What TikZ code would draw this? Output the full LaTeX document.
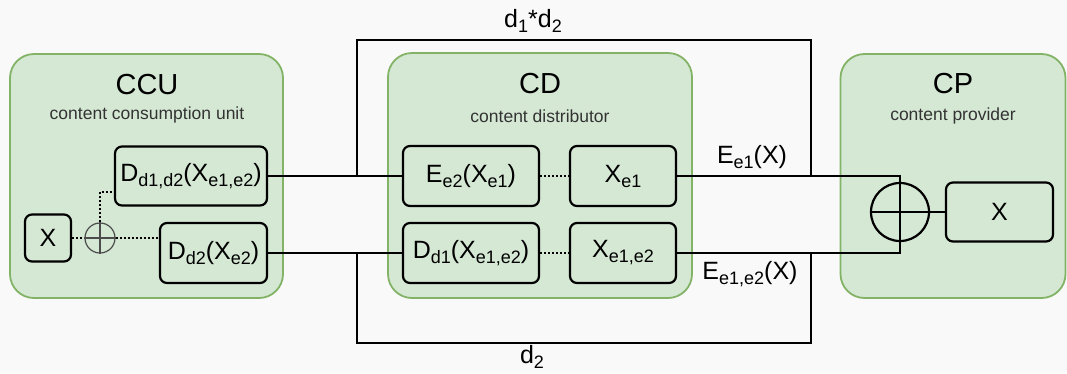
\documentclass[tikz,border=0pt]{standalone}
\usepackage{fontspec}
\setmainfont{Liberation Sans}
\definecolor{bgc}{HTML}{F9F9F9}
\definecolor{gfill}{HTML}{D5E8D4}
\definecolor{gline}{HTML}{82B366}
\definecolor{tgray}{HTML}{333333}
\newcommand\sbs[1]{\raisebox{-5pt}{\fontsize{18}{18}\selectfont #1}}
\begin{document}
\begin{tikzpicture}[x=1pt,y=-1pt,
  grp/.style={draw=gline,fill=gfill,line width=1.8pt,rounded corners=24pt,inner sep=0pt},
  blk/.style={draw=black,line width=2.2pt,rounded corners=7pt,inner sep=0pt,font=\fontsize{25}{28}\selectfont},
  wire/.style={draw=black,line width=2.2pt},
  dots/.style={draw=black,line width=2.2pt,dash pattern=on 2pt off 2pt},
  ttl/.style={font=\fontsize{29}{32}\selectfont,text=black},
  sub/.style={font=\fontsize{17.5}{20}\selectfont,text=tgray},
  lbl/.style={font=\fontsize{25}{28}\selectfont}]
\fill[bgc] (0,0) rectangle (1067,373);
\useasboundingbox (0,0) rectangle (1067,373);
% groups
\node[grp,minimum width=273pt,minimum height=244pt] (ccu) at (146.5,176) {};
\node[grp,minimum width=304pt,minimum height=245pt] (cd) at (540,175.5) {};
\node[grp,minimum width=225pt,minimum height=244pt] (cp) at (953,176) {};
\node[ttl] (ccut) at (147,85) {CCU};
\node[sub] (ccus) at (147,115) {content consumption unit};
\node[ttl] (cdt) at (540,84) {CD};
\node[sub] (cds) at (540,116) {content distributor};
\node[ttl] (cpt) at (953,84) {CP};
\node[sub] (cps) at (953,116) {content provider};
% wires
\coordinate (j1) at (357,176);
\coordinate (t1) at (357,40);
\coordinate (t2) at (811,40);
\coordinate (j2) at (811,176);
\coordinate (j3) at (357,253);
\coordinate (b1) at (357,343);
\coordinate (b2) at (811,343);
\coordinate (j4) at (811,253);
\coordinate (c1) at (900,176);
\coordinate (c2) at (900,253);
\coordinate (k1) at (100,192);
% inner blocks
\node[blk,minimum width=152pt,minimum height=59pt] (dd) at (191,176) {D\sbs{d1,d2}(X\sbs{e1,e2})};
\node[blk,minimum width=107pt,minimum height=60pt] (dd2) at (213.5,253) {D\sbs{d2}(X\sbs{e2})};
\node[blk,minimum width=46pt,minimum height=47pt] (xl) at (48,238) {X};
\node[circle,draw=black!70,line width=1.2pt,minimum size=30pt,inner sep=0pt] (cc) at (100,238) {};
\node[blk,minimum width=136pt,minimum height=60pt] (ee) at (471,176) {E\sbs{e2}(X\sbs{e1})};
\node[blk,minimum width=106pt,minimum height=60pt] (xe1) at (623,176) {X\sbs{e1}};
\node[blk,minimum width=136pt,minimum height=60pt] (dde) at (471,253) {D\sbs{d1}(X\sbs{e1,e2})};
\node[blk,minimum width=106pt,minimum height=60pt] (xe12) at (623,253) {X\sbs{e1,e2}};
\node[circle,draw=black,line width=2.2pt,minimum size=58pt,inner sep=0pt] (op) at (900,212) {};
\node[blk,minimum width=107pt,minimum height=59pt] (xcp) at (999.5,212) {X};
\coordinate (k2) at (dd.west |- k1);
% connectors
\draw[wire] (dd.east) -- (ee.west);
\draw[wire] (j1) -- (t1) -- (t2) -- (j2);
\draw[wire] (dd2.east) -- (dde.west);
\draw[wire] (j3) -- (b1) -- (b2) -- (j4);
\draw[wire] (xe1.east) -- (c1) -- (c2) -- (xe12.east);
\draw[wire] (op.west) -- (op.east);
\draw[wire] (op.east) -- (xcp.west);
\draw[dots] (ee.east) -- (xe1.west);
\draw[dots] (dde.east) -- (xe12.west);
\draw[dots] (xl.east) -- (cc.west);
\draw[dots] (cc.east) -- (cc.east -| dd2.west);
\draw[dots] (cc.north) -- (k1) -- (k2);
\draw[black!70,line width=1.2pt] (cc.north) -- (cc.south) (cc.west) -- (cc.east);
% labels
\node[lbl] (l1) at (533,21) {d\sbs{1}*d\sbs{2}};
\node[lbl] (l2) at (532,357) {d\sbs{2}};
\node[lbl] (l3) at (752,157) {E\sbs{e1}(X)};
\node[lbl] (l4) at (750,274) {E\sbs{e1,e2}(X)};
\end{tikzpicture}
\end{document}
